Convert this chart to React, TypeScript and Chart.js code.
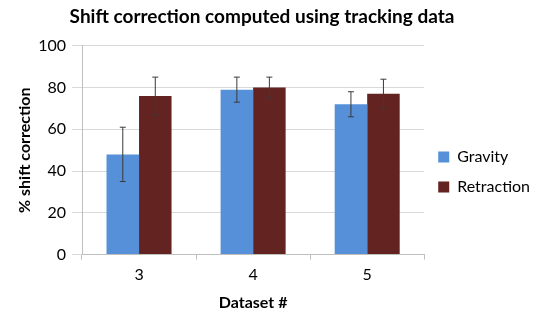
import React, { useEffect, useRef } from "react";
import { Chart, registerables } from "chart.js";

Chart.register(...registerables);

const categories = ["3", "4", "5"];
const gravity = [48, 79, 72];
const gravityErr = [13, 6, 6];
const retraction = [76, 80, 77];
const retractionErr = [9, 5, 7];
const yTicks = [0, 20, 40, 60, 80, 100];

const FONT = "Lato, 'Open Sans', sans-serif";

const errorBarPlugin = {
  id: "errorBars",
  afterDatasetsDraw(chart: any) {
    const ctx = chart.ctx;
    const yScale = chart.scales.y;
    chart.data.datasets.forEach((ds: any, di: number) => {
      const meta = chart.getDatasetMeta(di);
      const errs: number[] = ds.errors || [];
      meta.data.forEach((bar: any, i: number) => {
        const v = ds.data[i];
        const e = errs[i];
        if (e == null) return;
        const x = bar.x;
        const top = yScale.getPixelForValue(v + e);
        const bot = yScale.getPixelForValue(v - e);
        ctx.save();
        ctx.strokeStyle = "#3a3a3a";
        ctx.lineWidth = 1;
        ctx.beginPath();
        ctx.moveTo(x, top);
        ctx.lineTo(x, bot);
        ctx.moveTo(x - 3, top);
        ctx.lineTo(x + 3, top);
        ctx.moveTo(x - 3, bot);
        ctx.lineTo(x + 3, bot);
        ctx.stroke();
        ctx.restore();
      });
    });
  },
};

// small layout nudge: title centred a little left of canvas centre
const layoutNudgePlugin = {
  id: "layoutNudge",
  afterLayout(chart: any) {
    const t = chart.titleBlock;
    if (t) {
      t.right = t.right - 16;
      t.width = t.right - t.left;
    }
  },
};

export default function App() {
  const ref = useRef<HTMLCanvasElement | null>(null);
  useEffect(() => {
    document.body.style.margin = "0";
    const chart = new Chart(ref.current!, {
      type: "bar",
      data: {
        labels: categories,
        datasets: [
          {
            label: "Gravity",
            data: gravity,
            errors: gravityErr,
            backgroundColor: "#5590d8",
          } as any,
          {
            label: "Retraction",
            data: retraction,
            errors: retractionErr,
            backgroundColor: "#632321",
          } as any,
        ],
      },
      options: {
        animation: false,
        responsive: false,
        maintainAspectRatio: false,
        layout: { padding: { left: 0, right: 0, top: 2, bottom: 0 } },
        datasets: { bar: { categoryPercentage: 0.57, barPercentage: 1 } },
        plugins: {
          title: {
            display: true,
            text: "Shift correction computed using tracking data",
            color: "#000",
            font: { family: FONT, size: 19, weight: "bold" },
            padding: { top: 3, bottom: 18 },
          },
          legend: {
            position: "right",
            title: {
              display: true,
              text: " ",
              font: { family: FONT, size: 10 },
              padding: { top: 0, bottom: 18 },
            },
            labels: {
              color: "#000",
              font: { family: FONT, size: 16 },
              boxWidth: 11,
              boxHeight: 11,
              padding: 14,
            },
          },
          tooltip: { enabled: false },
        },
        scales: {
          x: {
            offset: true,
            grid: {
              display: true,
              offset: true,
              drawOnChartArea: false,
              drawTicks: true,
              tickLength: 5,
              color: "#bfbfbf",
            },
            border: { color: "#bfbfbf" },
            ticks: { color: "#000", font: { family: FONT, size: 16 }, padding: 6 },
            title: {
              display: true,
              text: "Dataset #",
              color: "#000",
              font: { family: FONT, size: 16, weight: "bold" },
              padding: { top: 2, bottom: 0 },
            },
          },
          y: {
            min: 0,
            max: 100,
            afterBuildTicks(axis: any) {
              axis.ticks = yTicks.map((v) => ({ value: v }));
            },
            afterFit(axis: any) {
              axis.width = 82;
            },
            grid: { color: "#d9d9d9", tickLength: 10 },
            border: { color: "#bfbfbf" },
            ticks: { color: "#000", font: { family: FONT, size: 16 }, padding: 6 },
            title: {
              display: true,
              text: "% shift correction",
              color: "#000",
              font: { family: FONT, size: 16, weight: "bold" },
              padding: { top: 15, bottom: 3 },
            },
          },
        },
      } as any,
      plugins: [errorBarPlugin, layoutNudgePlugin],
    });
    return () => chart.destroy();
  }, []);
  return (
    <div style={{ position: "fixed", left: 0, top: 0, width: 540, height: 312 }}>
      <canvas ref={ref} width={540} height={312} style={{ width: 540, height: 312 }} />
    </div>
  );
}
